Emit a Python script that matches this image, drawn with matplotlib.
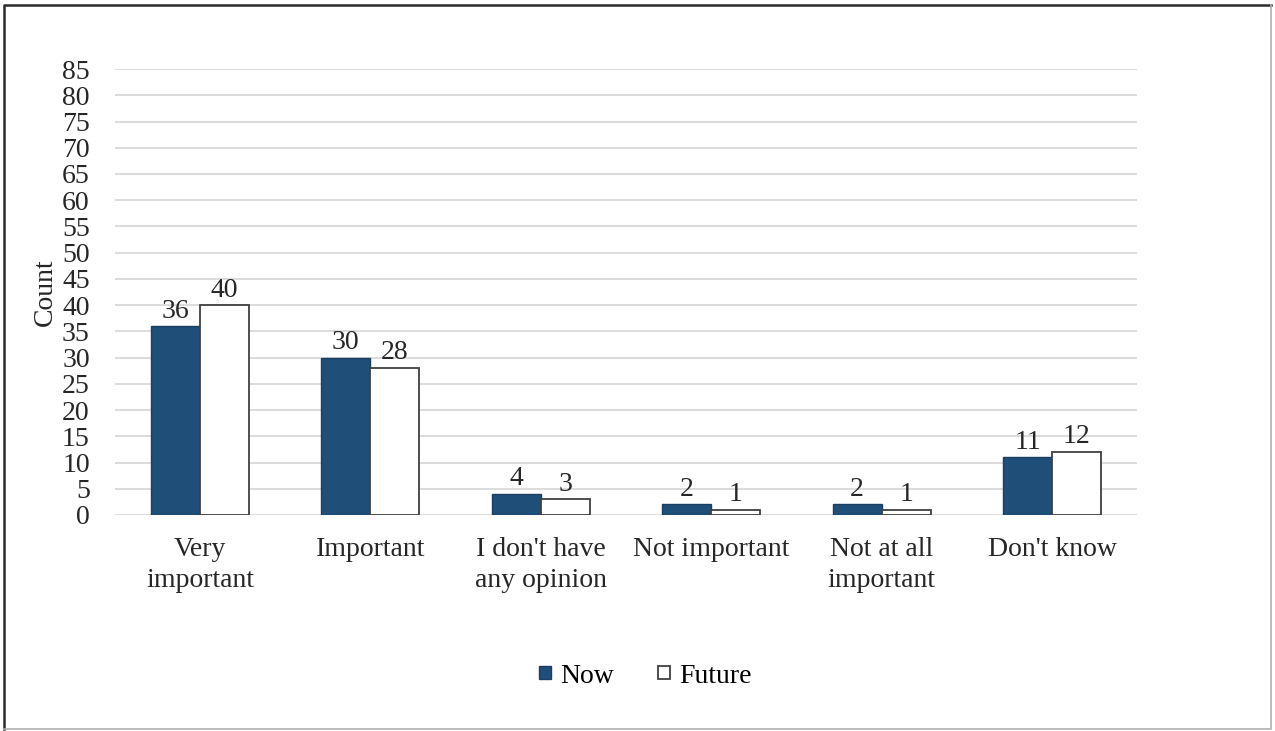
import numpy as np
import matplotlib.pyplot as plt
from matplotlib.lines import Line2D

plt.rcParams['font.family'] = ['Liberation Serif', 'DejaVu Serif']

categories = ["Very\nimportant", "Important", "I don't have\nany opinion",
              "Not important", "Not at all\nimportant", "Don't know"]
now = [36, 30, 4, 2, 2, 11]
future = [40, 28, 3, 1, 1, 12]
yticks = list(range(0, 90, 5))

navy = "#1f4e79"
txt = "#262626"
fs = 20

fig = plt.figure(figsize=(12.75, 7.31), dpi=100)
ax = fig.add_axes([0.090, 0.2955, 0.802, 0.610])

x = np.arange(len(categories))
w = 0.288
b1 = ax.bar(x - w / 2, now, w, color=navy, edgecolor="#1a3f63", linewidth=1, label="Now", zorder=3)
b2 = ax.bar(x + w / 2, future, w, color="white", edgecolor="#404040", linewidth=1.3, label="Future", zorder=3)

for bars, vals in [(b1, now), (b2, future)]:
    for r, v in zip(bars, vals):
        ax.text(r.get_x() + r.get_width() / 2, v + 0.5, str(v), ha="center", va="bottom",
                fontsize=fs, color=txt)

ax.set_xlim(-0.5, len(categories) - 0.5)
ax.set_ylim(0, 85)
ax.set_yticks(yticks)
ax.set_xticks(x)
ax.set_xticklabels(categories, fontsize=fs, color=txt, linespacing=1.3)
ax.tick_params(axis="y", labelsize=fs, labelcolor=txt, length=0, pad=18)
ax.tick_params(axis="x", length=0, pad=16)
ax.yaxis.grid(True, color="#d9d9d9", linewidth=1.3, zorder=0)
ax.set_axisbelow(True)
for s in ax.spines.values():
    s.set_visible(False)
ax.set_ylabel("Count", fontsize=fs, color=txt, labelpad=3)

fig.legend(handles=[b1, b2], labels=["Now", "Future"], loc="center", bbox_to_anchor=(0.506, 0.075),
           ncol=2, frameon=False, fontsize=fs, handlelength=0.45, handleheight=0.32,
           handletextpad=0.3, columnspacing=1.6)

# figure border: dark top/left, light bottom/right
fig.add_artist(Line2D([0.003, 0.003, 0.997], [0.003, 0.993, 0.993], transform=fig.transFigure,
                      color="#2b2b2b", linewidth=1.8))
fig.add_artist(Line2D([0.003, 0.997, 0.997], [0.003, 0.003, 0.993], transform=fig.transFigure,
                      color="#b0b0b0", linewidth=1.2))

fig.savefig("out.png", dpi=100)
